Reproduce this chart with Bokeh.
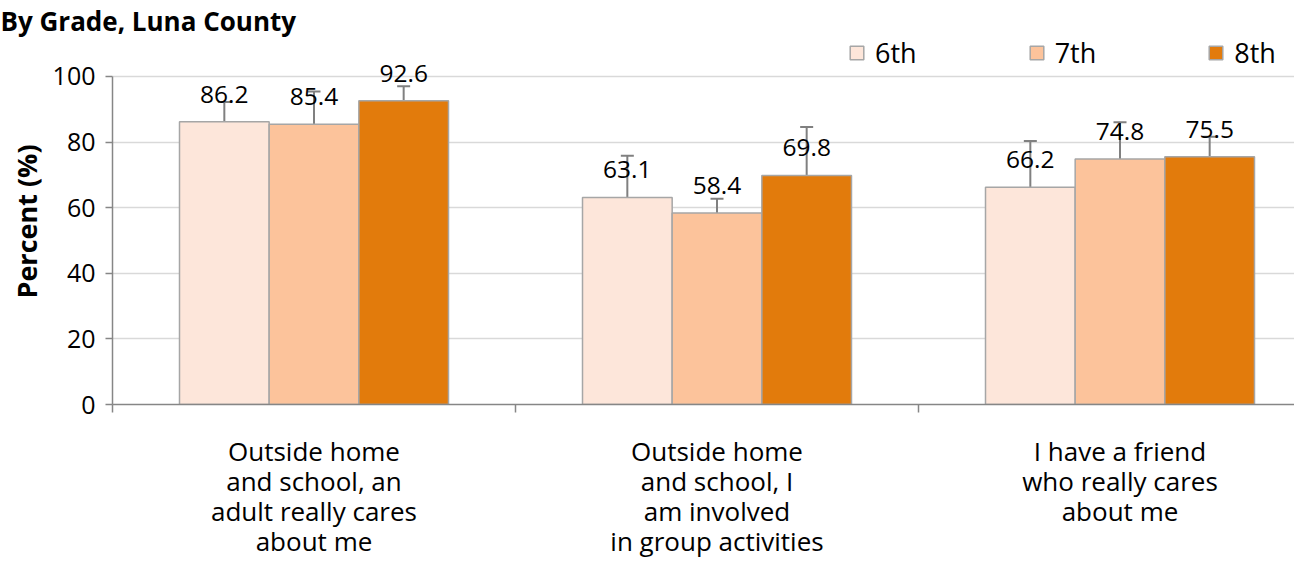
from bokeh.plotting import figure
from bokeh.models import (ColumnDataSource, Range1d, FixedTicker, Whisker, TeeHead,
                          LabelSet, Legend, LegendItem, Title)
from bokeh.core.properties import value
from bokeh.embed import file_html
from bokeh.resources import INLINE

title_text = "By Grade, Luna County"
categories = ["Outside home\nand school, an\nadult really cares\nabout me",
              "Outside home\nand school, I\nam involved\nin group activities",
              "I have a friend\nwho really cares\nabout me"]
grades = ["6th", "7th", "8th"]
values_6th = [86.2, 63.1, 66.2]
values_7th = [85.4, 58.4, 74.8]
values_8th = [92.6, 69.8, 75.5]
lower_6th = [77.5, 49.2, 49.5]
upper_6th = [92.2, 75.8, 80.3]
lower_7th = [65.0, 54.8, 59.8]
upper_7th = [95.4, 62.7, 86.0]
lower_8th = [85.1, 50.4, 69.1]
upper_8th = [97.0, 84.6, 81.6]
y_ticks = [0, 20, 40, 60, 80, 100]

colors = ["#FDE6DA", "#FCC39B", "#E27B0C"]
FONT = "Open Sans"

ttl = Title(text=title_text, align="left", offset=-112, standoff=0,
            vertical_align="bottom",
            text_font=FONT, text_font_size="26px", text_font_style="bold",
            text_color="black")

p = figure(width=1294, height=562, output_backend="svg", toolbar_location=None,
           x_range=Range1d(0, 2.933), y_range=Range1d(0, 111.55), title=ttl,
           min_border_left=112, min_border_right=0, min_border_top=0,
           min_border_bottom=157)
p.outline_line_color = None
p.background_fill_color = "white"

series = [(values_6th, lower_6th, upper_6th), (values_7th, lower_7th, upper_7th),
          (values_8th, lower_8th, upper_8th)]
offsets = [-0.2225, 0.0, 0.2225]
bw = 0.2225
items = []
for i, (vals, lo, up) in enumerate(series):
    xs = [k + 0.5 + offsets[i] for k in range(len(categories))]
    src = ColumnDataSource(dict(x=xs, top=vals, lower=lo, upper=up,
                                lab=[f"{v:.1f}" for v in vals]))
    r = p.vbar(x="x", top="top", bottom=0, width=bw, source=src,
               fill_color=colors[i], line_color="#A6A6A6", line_width=1.5)
    items.append(LegendItem(label=grades[i], renderers=[r]))
    w = Whisker(source=src, base="x", upper="upper", lower="lower",
                line_color="#808080", line_width=2,
                upper_head=TeeHead(size=13, line_color="#808080", line_width=2),
                lower_head=TeeHead(size=13, line_color="#808080", line_width=2))
    p.add_layout(w)
    ls = LabelSet(source=src, x="x", y="top", text="lab", text_align="center",
                  text_baseline="alphabetic", y_offset=19,
                  text_font=value(FONT), text_font_size=value("24.5px"),
                  text_color="black")
    p.add_layout(ls)

legend = Legend(items=items, orientation="horizontal", location=(736, 333),
                glyph_width=17, glyph_height=17, label_standoff=10, label_width=41,
                spacing=111, padding=0, margin=0, border_line_color=None,
                background_fill_alpha=0, label_text_font=FONT,
                label_text_font_size="27px", label_text_color="black",
                label_height=17)
p.add_layout(legend)

p.xgrid.grid_line_color = None
p.ygrid.ticker = FixedTicker(ticks=y_ticks)
p.ygrid.grid_line_color = "#D9D9D9"
p.ygrid.grid_line_width = 1.5

ya = p.yaxis[0]
ya.ticker = FixedTicker(ticks=y_ticks)
ya.bounds = (0, 100)
ya.axis_line_color = "#868686"
ya.axis_line_width = 1.5
ya.major_tick_line_color = "#868686"
ya.major_tick_line_width = 1.5
ya.major_tick_out = 7
ya.major_tick_in = 0
ya.minor_tick_line_color = None
ya.major_label_text_font = FONT
ya.major_label_text_font_size = "25px"
ya.major_label_text_color = "black"
ya.major_label_standoff = 10
ya.axis_label = "Percent (%)"
ya.axis_label_text_font = FONT
ya.axis_label_text_font_size = "27px"
ya.axis_label_text_font_style = "bold"
ya.axis_label_text_color = "black"
ya.axis_label_standoff = 5

xa = p.xaxis[0]
xa.ticker = FixedTicker(ticks=[0.5, 1.5, 2.5], minor_ticks=[0, 1, 2, 3])
xa.major_label_overrides = {0.5: categories[0], 1.5: categories[1], 2.5: categories[2]}
xa.axis_line_color = "#868686"
xa.axis_line_width = 1.5
xa.major_tick_line_color = None
xa.minor_tick_line_color = "#868686"
xa.minor_tick_line_width = 1.5
xa.minor_tick_out = 8
xa.minor_tick_in = 0
xa.major_label_text_font = FONT
xa.major_label_text_font_size = "26px"
xa.major_label_text_color = "black"
xa.major_label_text_line_height = 0.84
xa.major_label_standoff = 20

open("out.html", "w").write(file_html(p, INLINE))
